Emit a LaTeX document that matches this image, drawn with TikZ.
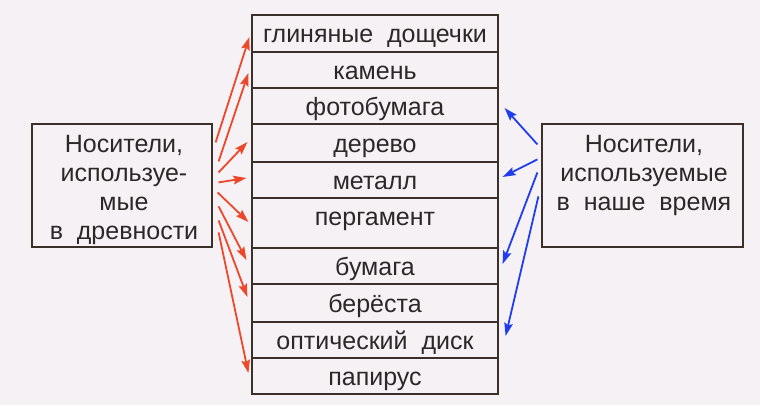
\documentclass[tikz,border=0pt]{standalone}
\usepackage{fontspec}
\setmainfont{Liberation Sans}
\usetikzlibrary{arrows.meta,calc}
\definecolor{bg}{RGB}{245,241,244}
\definecolor{ink}{RGB}{45,40,40}
\definecolor{frame}{RGB}{60,48,42}
\definecolor{ared}{RGB}{238,72,42}
\definecolor{ablue}{RGB}{32,62,240}
\begin{document}
\begin{tikzpicture}[x=1pt,y=-1pt,
  txt/.style={font=\fontsize{25}{29}\selectfont,text=ink,inner sep=0pt,align=center},
  cell/.style={draw=frame,line width=1.2pt,minimum width=246pt,inner sep=0pt,
    font=\fontsize{25}{29}\selectfont,text=ink,text height=20pt,text depth=2pt},
  box/.style={draw=frame,line width=1.2pt,inner sep=0pt},
  redarr/.style={draw=ared,line width=1.8pt,-{Stealth[length=13pt,width=8.5pt,inset=2pt]}},
  bluearr/.style={draw=ablue,line width=1.8pt,-{Stealth[length=13pt,width=8.5pt,inset=2pt]}}]
\fill[bg] (0,0) rectangle (760,405);
\useasboundingbox (0,0) rectangle (760,405);
% central column
\node[cell,minimum height=37pt] (r1) at (375,33.5) {глиняные\ \ дощечки};
\node[cell,minimum height=36pt] (r2) at (375,70) {камень};
\node[cell,minimum height=36pt] (r3) at (375,106) {фотобумага};
\node[cell,minimum height=38pt] (r4) at (375,143) {дерево};
\node[cell,minimum height=36pt] (r5) at (375,180) {металл};
\node[cell,minimum height=50pt] (r6) at (375,223) {};
\node[txt,anchor=base] (t6) at (375,225) {пергамент};
\node[cell,minimum height=36pt] (r7) at (375,266) {бумага};
\node[cell,minimum height=38pt] (r8) at (375,303) {берёста};
\node[cell,minimum height=36pt] (r9) at (375,340) {оптический\ \ диск};
\node[cell,minimum height=36pt] (r10) at (375,376) {папирус};
% side boxes
\node[box,minimum width=180pt,minimum height=123pt] (L) at (122,185.5) {};
\node[txt,anchor=north] (Lt) at (124,135) {Носители,\\используе-\\мые\\в\ \ древности};
\node[box,minimum width=201pt,minimum height=123pt] (R) at (642.5,185.5) {};
\node[txt,anchor=north] (Rt) at (644,135) {Носители,\\используемые\\в\ \ наше\ \ время};
% red arrows
\draw[redarr] ($(L.north east)+(3,19)$) -- ($(r1.west)+(-2,3.5)$);
\draw[redarr] ($(L.north east)+(6,38)$) -- ($(r2.west)+(-3,3)$);
\draw[redarr] ($(L.north east)+(6,49)$) -- ($(r4.west)+(-4,-1)$);
\draw[redarr] ($(L.north east)+(6,59)$) -- ($(r5.west)+(-5,-2)$);
\draw[redarr] ($(L.north east)+(5,69)$) -- ($(r6.west)+(-3,-1)$);
\draw[redarr] ($(L.north east)+(6,83)$) -- ($(r7.west)+(-5,-6)$);
\draw[redarr] ($(L.north east)+(6,97)$) -- ($(r8.west)+(-4,-6)$);
\draw[redarr] ($(L.north east)+(6,109)$) -- ($(r10.west)+(-3,-3)$);
% blue arrows
\draw[bluearr] ($(R.north west)+(-4,21)$) -- ($(r3.east)+(6,2)$);
\draw[bluearr] ($(R.north west)+(-4,36)$) -- ($(r5.east)+(4,-3)$);
\draw[bluearr] ($(R.north west)+(-4,49)$) -- ($(r7.east)+(4,-2)$);
\draw[bluearr] ($(R.north west)+(-3,73)$) -- ($(r9.east)+(7,-4)$);
\end{tikzpicture}
\end{document}
